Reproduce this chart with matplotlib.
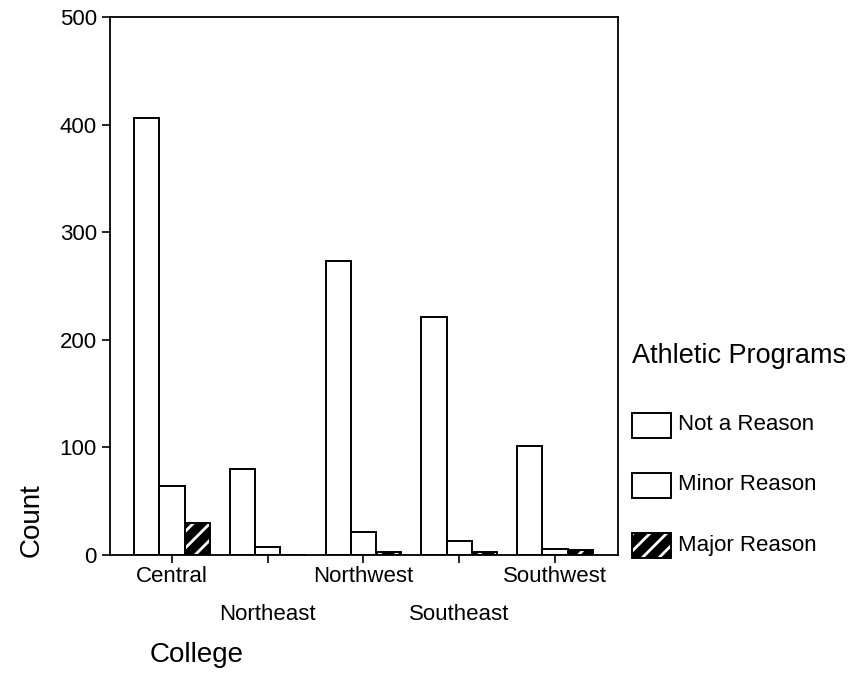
import numpy as np
import matplotlib
matplotlib.use("Agg")
import matplotlib.pyplot as plt
from matplotlib.patches import Rectangle

plt.rcParams["font.family"] = ["Liberation Sans", "DejaVu Sans"]
plt.rcParams["hatch.linewidth"] = 2.0

# ── 데이터 ──
colleges = ["Central", "Northeast", "Northwest", "Southeast", "Southwest"]
series_names = ["Not a Reason", "Minor Reason", "Major Reason"]
not_a_reason = [406, 80, 273, 221, 101]
minor_reason = [64, 7, 21, 13, 6]
major_reason = [30, 0, 3, 3, 5]
y_ticks = [0, 100, 200, 300, 400, 500]

W, H = 854, 698
fig = plt.figure(figsize=(W / 100, H / 100), dpi=100)
ax = fig.add_axes([110 / W, 1 - 555 / H, 508 / W, 538 / H])

x = np.arange(len(colleges))
bw = 0.264

ax.bar(x - bw, not_a_reason, bw, facecolor="white", edgecolor="black", linewidth=1.4)
ax.bar(x, minor_reason, bw, facecolor="white", edgecolor="black", linewidth=1.4)
# 검정 바탕 + 흰 빗금, 테두리는 따로
ax.bar(x + bw, major_reason, bw, facecolor="black", edgecolor="white", hatch="//", linewidth=0)
ax.bar(x + bw, major_reason, bw, fill=False, edgecolor="black", linewidth=1.4)

ax.set_xlim(-0.6475, 4.658)
ax.set_ylim(0, 500)
ax.set_yticks(y_ticks)
ax.set_yticklabels([str(v) for v in y_ticks])
ax.set_xticks(x)
ax.set_xticklabels([])
ax.tick_params(axis="both", direction="out", length=6, width=1.2, labelsize=16, colors="black")

for s in ax.spines.values():
    s.set_linewidth(1.3)
    s.set_color("black")

# 카테고리 라벨 (두 줄 엇갈림)
for i, name in enumerate(colleges):
    y_px = 576 if i % 2 == 0 else 614
    ax.annotate(name, xy=(x[i], 0), xycoords=("data", "axes fraction"),
                xytext=(0, -(y_px - 555)), textcoords="offset pixels",
                ha="center", va="center", fontsize=16)

fig.text(32 / W, 1 - 520 / H, "Count", rotation=90, ha="center", va="center", fontsize=20)
fig.text(150 / W, 1 - 655 / H, "College", ha="left", va="center", fontsize=20)

# ── 범례 ──
fig.text(632 / W, 1 - 356 / H, "Athletic Programs", ha="left", va="center", fontsize=19.5)
styles = [None, None, "//"]
for yc, name, hatch in zip([425, 485, 545], series_names, styles):
    x0, y0 = 632 / W, 1 - (yc + 12.5) / H
    bwf, bhf = 39 / W, 25 / H
    if hatch:
        fig.patches.append(Rectangle((x0, y0), bwf, bhf, transform=fig.transFigure,
                                     facecolor="black", edgecolor="white", hatch=hatch, linewidth=0))
        fig.patches.append(Rectangle((x0, y0), bwf, bhf, transform=fig.transFigure,
                                     fill=False, edgecolor="black", linewidth=1.4))
    else:
        fig.patches.append(Rectangle((x0, y0), bwf, bhf, transform=fig.transFigure,
                                     facecolor="white", edgecolor="black", linewidth=1.4))
    fig.text(678 / W, 1 - yc / H, name, ha="left", va="center", fontsize=16)

fig.savefig("out.png", dpi=100, facecolor="white")
